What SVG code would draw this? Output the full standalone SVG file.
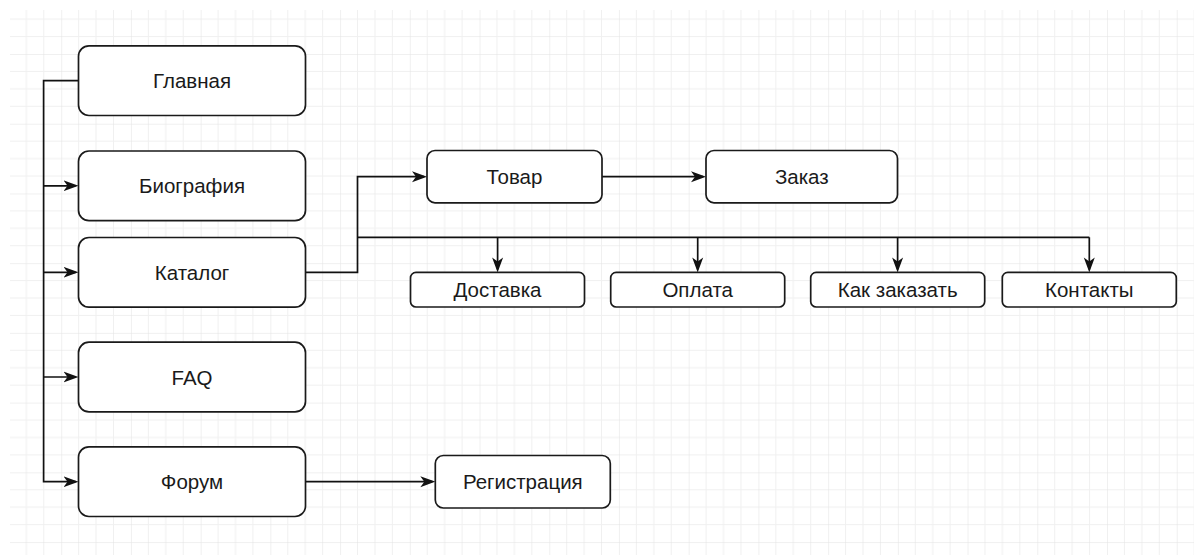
<svg xmlns="http://www.w3.org/2000/svg" width="1194" height="555" viewBox="0 0 1194 555">
  <defs>
    <!-- background grid: 4 minor cells per major cell -->
    <pattern id="grid" patternUnits="userSpaceOnUse" x="61.2" y="54" width="69.72" height="69.72">
      <g stroke="#f0f0f0" stroke-width="1" fill="none">
        <line x1="17.43" y1="0" x2="17.43" y2="69.72"/>
        <line x1="34.86" y1="0" x2="34.86" y2="69.72"/>
        <line x1="52.29" y1="0" x2="52.29" y2="69.72"/>
        <line x1="0" y1="17.43" x2="69.72" y2="17.43"/>
        <line x1="0" y1="34.86" x2="69.72" y2="34.86"/>
        <line x1="0" y1="52.29" x2="69.72" y2="52.29"/>
      </g>
      <g stroke="#e2e2e2" stroke-width="1" fill="none">
        <line x1="0" y1="0" x2="0" y2="69.72"/>
        <line x1="0" y1="0" x2="69.72" y2="0"/>
      </g>
    </pattern>
    <marker id="arrow" markerUnits="userSpaceOnUse" viewBox="0 0 15 12" markerWidth="15" markerHeight="12" refX="12" refY="6" orient="auto">
      <path d="M15,6 L0,0.5 L4,6 L0,11.5 Z" fill="#111"/>
    </marker>
  </defs>
  <style>
    .box { fill: #ffffff; stroke: #1a1a1a; stroke-width: 1.7; }
    .lbl { font-family: "Liberation Sans", Arial, sans-serif; font-size: 20.5px; fill: #1a1a1a; text-anchor: middle; }
    .wire { fill: none; stroke: #111; stroke-width: 1.7; }
    .arr { marker-end: url(#arrow); }
  </style>

  <rect x="0" y="0" width="1194" height="555" fill="#ffffff"/>
  <rect x="10" y="10" width="1184" height="545" fill="url(#grid)"/>

  <!-- connectors -->
  <g id="connectors">
    <!-- left trunk from the main page -->
    <path class="wire" d="M78.5,80.7 H43.6 V481.7 H75.5" marker-end="url(#arrow)"/>
    <path class="wire arr" d="M43.6,185.8 H75.5"/>
    <path class="wire arr" d="M43.6,272.3 H75.5"/>
    <path class="wire arr" d="M43.6,377 H75.5"/>
    <!-- catalogue to product -->
    <path class="wire arr" d="M305.5,272.3 H357.5 V176.7 H424"/>
    <!-- catalogue bus to info pages -->
    <path class="wire" d="M357.5,237.3 H1089.3"/>
    <path class="wire arr" d="M497.6,237.3 V269.4"/>
    <path class="wire arr" d="M697.7,237.3 V269.4"/>
    <path class="wire arr" d="M897.6,237.3 V269.4"/>
    <path class="wire arr" d="M1089.3,237.3 V269.4"/>
    <!-- product to order -->
    <path class="wire arr" d="M602,176.7 H703"/>
    <!-- forum to registration -->
    <path class="wire arr" d="M305.5,481.7 H432.3"/>
  </g>

  <g id="node-glavnaya">
    <rect class="box" x="78.5" y="45.8" width="227" height="69.7" rx="10.5"/>
    <text class="lbl" x="192" y="88.2">Главная</text>
  </g>
  <g id="node-biografiya">
    <rect class="box" x="78.5" y="151" width="227" height="69.7" rx="10.5"/>
    <text class="lbl" x="192" y="193.3">Биография</text>
  </g>
  <g id="node-katalog">
    <rect class="box" x="78.5" y="237.5" width="227" height="69.7" rx="10.5"/>
    <text class="lbl" x="192" y="279.8">Каталог</text>
  </g>
  <g id="node-faq">
    <rect class="box" x="78.5" y="342.2" width="227" height="69.7" rx="10.5"/>
    <text class="lbl" x="192" y="384.5">FAQ</text>
  </g>
  <g id="node-forum">
    <rect class="box" x="78.5" y="446.8" width="227" height="69.7" rx="10.5"/>
    <text class="lbl" x="192" y="489.1">Форум</text>
  </g>
  <g id="node-tovar">
    <rect class="box" x="427" y="150.5" width="175" height="52.3" rx="8"/>
    <text class="lbl" x="514.5" y="184.2">Товар</text>
  </g>
  <g id="node-zakaz">
    <rect class="box" x="706" y="150.5" width="191.5" height="52.3" rx="8"/>
    <text class="lbl" x="801.8" y="184.2">Заказ</text>
  </g>
  <g id="node-dostavka">
    <rect class="box" x="410.5" y="272.4" width="174" height="34.6" rx="5.5"/>
    <text class="lbl" x="497.5" y="297.2">Доставка</text>
  </g>
  <g id="node-oplata">
    <rect class="box" x="610.7" y="272.4" width="174" height="34.6" rx="5.5"/>
    <text class="lbl" x="697.7" y="297.2">Оплата</text>
  </g>
  <g id="node-kak-zakazat">
    <rect class="box" x="810.7" y="272.4" width="174" height="34.6" rx="5.5"/>
    <text class="lbl" x="897.7" y="297.2">Как заказать</text>
  </g>
  <g id="node-kontakty">
    <rect class="box" x="1002.3" y="272.4" width="174" height="34.6" rx="5.5"/>
    <text class="lbl" x="1089.3" y="297.2">Контакты</text>
  </g>
  <g id="node-registratsiya">
    <rect class="box" x="435.3" y="455.5" width="175" height="52.5" rx="8"/>
    <text class="lbl" x="522.8" y="489.2">Регистрация</text>
  </g>
</svg>
